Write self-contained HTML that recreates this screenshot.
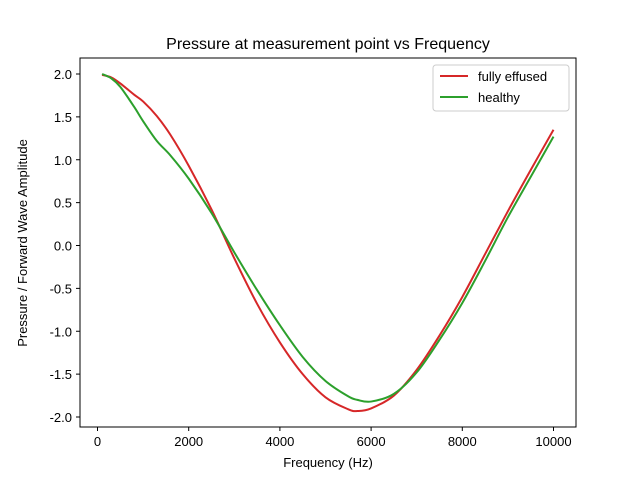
<!DOCTYPE html>
<html><head><meta charset="utf-8"><style>
body{margin:0;background:#fff}
svg{display:block;font-family:"Liberation Sans","DejaVu Sans",sans-serif}
</style></head><body>
<svg id="chart" width="640" height="480" viewBox="0 0 640 480">
<rect width="640" height="480" fill="#fff"/>
<text x="328" y="49" font-size="16" text-anchor="middle">Pressure at measurement point vs Frequency</text>
<g id="plot"></g>
<rect x="80" y="58" width="496" height="369" fill="none" stroke="#000" stroke-width="1"/>
<text x="328" y="467" font-size="13" text-anchor="middle">Frequency (Hz)</text>
<text transform="translate(27,243) rotate(-90)" font-size="13" text-anchor="middle">Pressure / Forward Wave Amplitude</text>
<g>
<rect x="433" y="65" width="136" height="46" rx="3" fill="#fff" stroke="#ccc"/>
<line x1="440" y1="76" x2="468" y2="76" stroke="#d62728" stroke-width="2"/>
<text x="478" y="81" font-size="13">fully effused</text>
<line x1="440" y1="97" x2="468" y2="97" stroke="#2ca02c" stroke-width="2"/>
<text x="478" y="102" font-size="13">healthy</text>
</g>
</svg>
<script>
const freqs=[100,300,500,800,1000,1300,1600,2000,2500,3000,3500,4000,4500,5000,5500,5700,6000,6500,7000,7500,8000,8500,9000,9500,10000];
const effused=[1.99,1.96,1.89,1.76,1.68,1.51,1.29,0.93,0.42,-0.15,-0.68,-1.13,-1.5,-1.77,-1.91,-1.93,-1.9,-1.75,-1.45,-1.05,-0.6,-0.1,0.4,0.88,1.35];
const healthy=[2.0,1.95,1.85,1.62,1.45,1.22,1.05,0.78,0.38,-0.08,-0.52,-0.93,-1.3,-1.58,-1.76,-1.8,-1.82,-1.73,-1.48,-1.1,-0.67,-0.18,0.33,0.8,1.27];
const xTicks=[0,2000,4000,6000,8000,10000];
const yTicks=[2.0,1.5,1.0,0.5,0.0,-0.5,-1.0,-1.5,-2.0];
const NS="http://www.w3.org/2000/svg";
const g=document.getElementById('plot');
const X=v=>97.5+v*0.0456;
const Y=v=>245.5-v*85.75;
function mk(t,a){const e=document.createElementNS(NS,t);for(const k in a)e.setAttribute(k,a[k]);g.appendChild(e);return e;}
xTicks.forEach(t=>{
const l=mk('line',{x1:X(t),x2:X(t),y1:427,y2:431,stroke:'#000'});


const tx=mk('text',{x:X(t),y:446,'font-size':13,'text-anchor':'middle'});tx.textContent=t;


});
yTicks.forEach(t=>{
const l=mk('line',{x1:76,x2:80,y1:Y(t),y2:Y(t),stroke:'#000'});


const tx=mk('text',{x:72,y:Y(t)+5,'font-size':13,'text-anchor':'end'});tx.textContent=t.toFixed(1);


});
function path(xs,ys){
const p=xs.map((x,i)=>[X(x),Y(ys[i])]);
let d='M'+p[0][0]+','+p[0][1];
for(let i=0;i<p.length-1;i++){
const p0=p[i-1]||p[i],p1=p[i],p2=p[i+1],p3=p[i+2]||p2;
const c1=[p1[0]+(p2[0]-p0[0])/6,p1[1]+(p2[1]-p0[1])/6];
const c2=[p2[0]-(p3[0]-p1[0])/6,p2[1]-(p3[1]-p1[1])/6];
d+=' C'+c1+' '+c2+' '+p2;}
return d;}
const r=mk('path',{d:path(freqs,effused),fill:'none',stroke:'#d62728','stroke-width':2});


const h=mk('path',{d:path(freqs,healthy),fill:'none',stroke:'#2ca02c','stroke-width':2});


</script>
</body></html>
